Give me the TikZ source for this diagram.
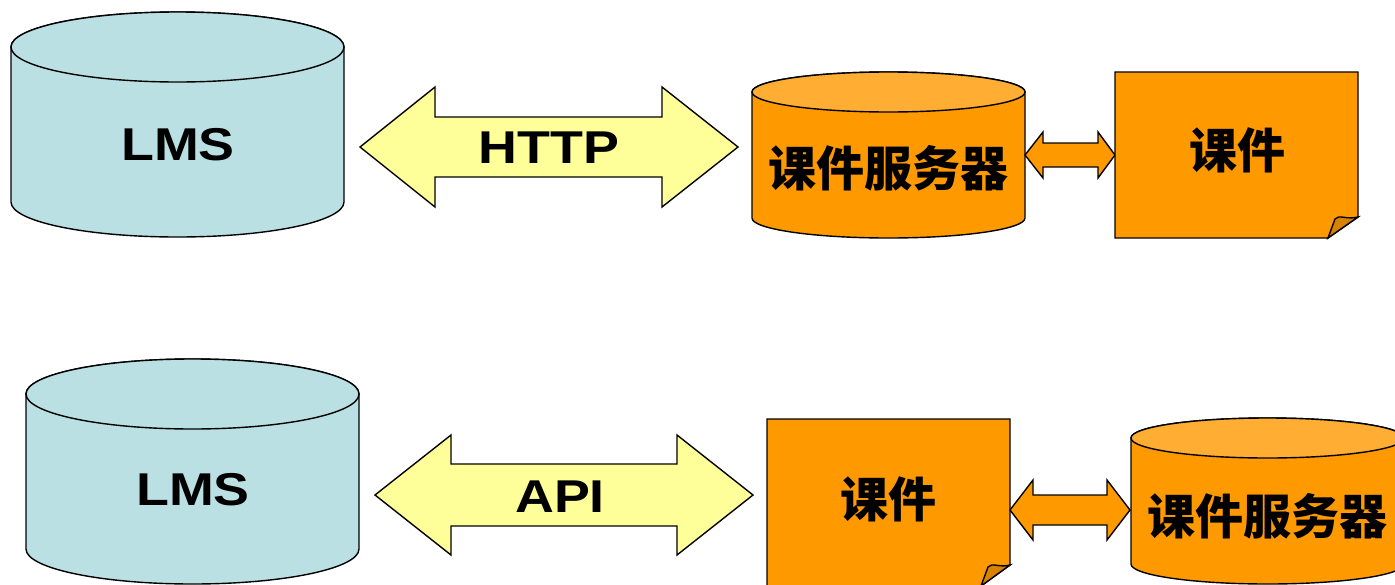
\documentclass[tikz,border=0pt]{standalone}
\usepackage{fontspec}
\setmainfont{Liberation Sans}
\newfontfamily\cjk{Noto Sans CJK SC}
\definecolor{lmsfill}{RGB}{187,224,227}
\definecolor{linkfill}{RGB}{255,255,153}
\definecolor{srvfill}{RGB}{255,153,0}
\definecolor{srvtop}{RGB}{255,173,51}
\definecolor{foldfill}{RGB}{217,130,0}
% Latin labels are set slightly stretched
\newcommand\widelabel[1]{\scalebox{1.17}[1]{#1}}
\tikzset{
  x=1pt, y=-1pt,
  outline/.style={draw=black, line width=1.4pt, line join=miter},
  latin/.style={font=\fontsize{46}{50}\selectfont\bfseries, inner sep=0pt},
  hanzi/.style={font=\fontsize{48}{52}\selectfont\cjk\bfseries, inner sep=0pt},
}
\begin{document}
\begin{tikzpicture}
\useasboundingbox (0,0) rectangle (1395,584);

% ---------- upper row: LMS <-HTTP-> course server <-> courseware ----------
% LMS cylinder (y axis points down, so the lower arc runs 180 -> 0)
\draw[outline, fill=lmsfill] (11,47) -- (11,202)
  arc[start angle=180, end angle=0, x radius=166.5, y radius=35] -- (344,47)
  arc[start angle=0, end angle=-180, x radius=166.5, y radius=35] -- cycle;
\draw[outline, fill=lmsfill] (177.5,47) ellipse[x radius=166.5, y radius=35];
\node[latin] (lmsA) at (178,145) {\widelabel{LMS}};

% HTTP block arrow
\draw[outline, fill=linkfill] (360,147) -- (435,87) -- (435,117) -- (662,117)
  -- (662,87) -- (738,147) -- (662,207) -- (662,177) -- (435,177) -- (435,207) -- cycle;
\node[latin] (http) at (549,148) {\widelabel{HTTP}};

% course server cylinder
\draw[outline, fill=srvfill] (752,92) -- (752,218)
  arc[start angle=180, end angle=0, x radius=136.5, y radius=20] -- (1025,92)
  arc[start angle=0, end angle=-180, x radius=136.5, y radius=20] -- cycle;
\draw[outline, fill=srvtop] (888.5,92) ellipse[x radius=136.5, y radius=20];
\node[hanzi] (srvA) at (888.5,168) {课件服务器};

% small block arrow
\draw[outline, fill=srvfill] (1025,155) -- (1043,132) -- (1043,143) -- (1098,143)
  -- (1098,132) -- (1115,155) -- (1098,178) -- (1098,167) -- (1043,167) -- (1043,178) -- cycle;

% courseware sheet with curled corner
\draw[outline, fill=srvfill] (1115,72) -- (1358,72) -- (1358,217) -- (1328,238) -- (1115,238) -- cycle;
\draw[outline, fill=foldfill] (1328,238) -- (1335,219)
  .. controls (1339,214) and (1346,220) .. (1358,217) -- cycle;
\node[hanzi] (docA) at (1237,150) {课件};

% ---------- lower row: LMS <-API-> courseware <-> course server ----------
% LMS cylinder
\draw[outline, fill=lmsfill] (26,394) -- (26,549)
  arc[start angle=180, end angle=0, x radius=166.5, y radius=35] -- (359,394)
  arc[start angle=0, end angle=-180, x radius=166.5, y radius=35] -- cycle;
\draw[outline, fill=lmsfill] (192.5,394) ellipse[x radius=166.5, y radius=35];
\node[latin] (lmsB) at (193,490) {\widelabel{LMS}};

% API block arrow
\draw[outline, fill=linkfill] (375,495) -- (451,435) -- (451,464) -- (677,464)
  -- (677,435) -- (753,495) -- (677,555) -- (677,526) -- (451,526) -- (451,555) -- cycle;
\node[latin] (api) at (560,497) {\widelabel{API}};

% courseware sheet with curled corner
\draw[outline, fill=srvfill] (767,419) -- (1010,419) -- (1010,565) -- (981,586) -- (767,586) -- cycle;
\draw[outline, fill=foldfill] (981,586) -- (988,567)
  .. controls (992,562) and (999,568) .. (1010,565) -- cycle;
\node[hanzi] (docB) at (888,499) {课件};

% small block arrow
\draw[outline, fill=srvfill] (1010,510) -- (1033,480) -- (1033,495) -- (1107,495)
  -- (1107,480) -- (1130,510) -- (1107,540) -- (1107,525) -- (1033,525) -- (1033,540) -- cycle;

% course server cylinder
\draw[outline, fill=srvfill] (1131,438) -- (1131,564)
  arc[start angle=180, end angle=0, x radius=136.5, y radius=20] -- (1404,438)
  arc[start angle=0, end angle=-180, x radius=136.5, y radius=20] -- cycle;
\draw[outline, fill=srvtop] (1267.5,438) ellipse[x radius=136.5, y radius=20];
\node[hanzi] (srvB) at (1267.5,516) {课件服务器};
\end{tikzpicture}
\end{document}
